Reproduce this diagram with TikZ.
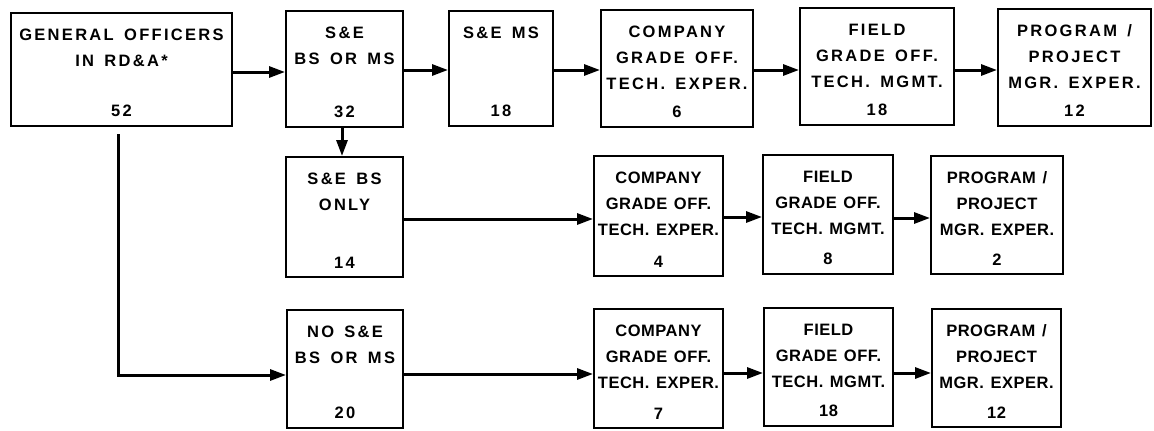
\documentclass[tikz,border=0pt]{standalone}
\usepackage{fontspec}
\setmainfont{Liberation Sans}
\newfontfamily\wideff{Liberation Sans}[LetterSpace=14,WordSpace=1.5]
\newfontfamily\narrowff{Liberation Sans}[LetterSpace=3,WordSpace=1.3]
\usetikzlibrary{arrows.meta}
\tikzset{
  boxst/.style={draw, line width=2pt, inner sep=0pt, anchor=north west,
    font=\fontsize{16.5}{26}\selectfont},
  conn/.style={line width=3pt, -{Triangle[length=16pt,width=11pt]}},
}
\newcommand\fbx[8][\wideff]{%
  \node[boxst] (#2) at (#3pt,-#4pt)
   {#1\bfseries\parbox[t][\dimexpr #6pt-#4pt\relax][t]{\dimexpr #5pt-#3pt\relax}%
     {\centering\vspace*{9pt}%
      \makebox[\linewidth]{\begin{tabular}[t]{@{}c@{}}#7\end{tabular}}\par
      \vfill\makebox[\linewidth]{#8}\par\vspace*{9pt}}};}
\begin{document}
\begin{tikzpicture}
\useasboundingbox[fill=white] (0,0) rectangle (1154pt,-431pt);
% row 1
\fbx{b1}{10}{12}{231}{125}{GENERAL OFFICERS\\IN RD\&A*}{52}
\fbx{b2}{285}{10}{402}{126}{S\&E\\BS OR MS}{32}
\fbx{b3}{448}{10}{552}{125}{S\&E MS}{18}
\fbx{b4}{600}{9}{752}{126}{COMPANY\\GRADE OFF.\\TECH. EXPER.}{6}
\fbx{b5}{799}{7}{953}{124}{FIELD\\GRADE OFF.\\TECH. MGMT.}{18}
\fbx{b6}{997}{8}{1150}{125}{PROGRAM /\\PROJECT\\MGR. EXPER.}{12}
% row 2
\fbx{c1}{285}{156}{402}{276}{S\&E BS\\ONLY}{14}
\fbx[\narrowff]{c2}{593}{155}{722}{275}{COMPANY\\GRADE OFF.\\TECH. EXPER.}{4}
\fbx[\narrowff]{c3}{762}{154}{892}{273}{FIELD\\GRADE OFF.\\TECH. MGMT.}{8}
\fbx[\narrowff]{c4}{930}{155}{1062}{273}{PROGRAM /\\PROJECT\\MGR. EXPER.}{2}
% row 3
\fbx{d1}{286}{309}{402}{427}{NO S\&E\\BS OR MS}{20}
\fbx[\narrowff]{d2}{593}{308}{722}{427}{COMPANY\\GRADE OFF.\\TECH. EXPER.}{7}
\fbx[\narrowff]{d3}{763}{307}{892}{425}{FIELD\\GRADE OFF.\\TECH. MGMT.}{18}
\fbx[\narrowff]{d4}{931}{308}{1060}{426}{PROGRAM /\\PROJECT\\MGR. EXPER.}{12}
% connectors row 1
\draw[conn] (b1.east |- 0,-72pt) -- (b2.west |- 0,-72pt);
\draw[conn] (b2.east |- 0,-70pt) -- (b3.west |- 0,-70pt);
\draw[conn] (b3.east |- 0,-70pt) -- (b4.west |- 0,-70pt);
\draw[conn] (b4.east |- 0,-70pt) -- (b5.west |- 0,-70pt);
\draw[conn] (b5.east |- 0,-70pt) -- (b6.west |- 0,-70pt);
% row 2
\draw[conn] (b2.south -| 342pt,0) -- (c1.north -| 342pt,0);
\draw[conn] (c1.east |- 0,-219pt) -- (c2.west |- 0,-219pt);
\draw[conn] (c2.east |- 0,-217pt) -- (c3.west |- 0,-217pt);
\draw[conn] (c3.east |- 0,-218pt) -- (c4.west |- 0,-218pt);
% row 3
\draw[conn, shorten <=7pt] (b1.south -| 118pt,0) |- (d1.west |- 0,-375pt);
\draw[conn] (d1.east |- 0,-374pt) -- (d2.west |- 0,-374pt);
\draw[conn] (d2.east |- 0,-373pt) -- (d3.west |- 0,-373pt);
\draw[conn] (d3.east |- 0,-373pt) -- (d4.west |- 0,-373pt);
\end{tikzpicture}
\end{document}
